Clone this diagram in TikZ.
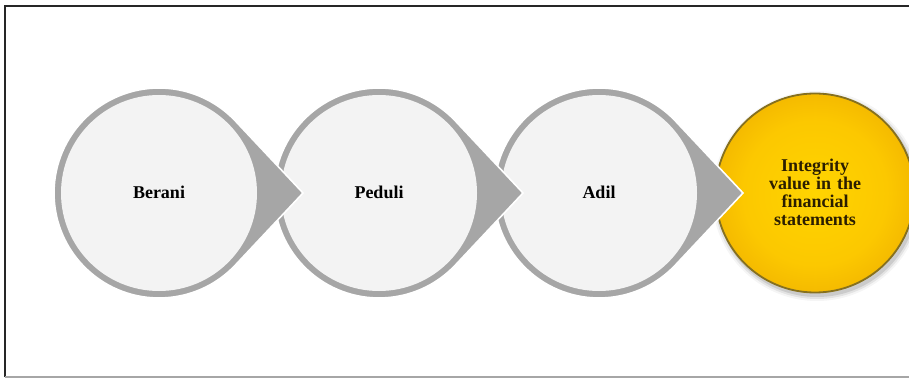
\documentclass[tikz,border=0pt]{standalone}
\usepackage{fontspec}
\setmainfont{Liberation Serif}
\definecolor{ringcol}{HTML}{A6A6A6}
\definecolor{disccol}{HTML}{F3F3F3}
\definecolor{goalin}{HTML}{FFD400}
\definecolor{goalmid}{HTML}{FCC800}
\definecolor{goalout}{HTML}{EFB000}
\definecolor{goaledge}{HTML}{C08C00}
\definecolor{goalrim}{HTML}{857020}
\definecolor{goaltext}{HTML}{2B1E00}
% the shading square is fitted round the disc, so its radius sits at about 35bp
\pgfdeclareradialshading{goalshade}{\pgfpoint{0bp}{0bp}}{%
  color(0bp)=(goalin); color(18bp)=(goalmid); color(30bp)=(goalout);
  color(35bp)=(goaledge); color(50bp)=(goaledge)}
\begin{document}
\begin{tikzpicture}[x=1pt,y=-1pt,
  dropshape/.style={fill=ringcol,draw=white,line width=1.6pt,line join=miter},
  innerdisc/.style={fill=disccol},
  lbl/.style={font=\bfseries\fontsize{18}{18.5}\selectfont,text=black,align=center},
  goallbl/.style={font=\bfseries\fontsize{18}{18}\selectfont,text=goaltext,align=center,text width=110pt}
]
\useasboundingbox (0,0) rectangle (909,379);
\fill[white] (0,0) rectangle (909,379);
% frame
\draw[black!85,line width=1.8pt] (5,377) -- (5,6) -- (909,6);
\draw[black!35,line width=1.2pt] (5,377) -- (909,377);

% goal disc with soft shadow
\foreach \r/\o in {105/0.04,103/0.07,101/0.10}
  \fill[black,opacity=\o] (817,196) circle[radius=\r];
\shade[shading=goalshade] (815,193) circle[radius=100];
\draw[goalrim,line width=1.8pt] (815,193) circle[radius=99.5];
\node[goallbl] (goal) at (815,192) {Integrity\\value in the\\financial\\statements};

% teardrop steps, drawn right to left so each tip lies over the next disc
\foreach \cx/\name/\txt in {599/s3/Adil,379/s2/Peduli,159/s1/Berani}{
  \path[dropshape] (\cx,193) ++(43.3:105)
     arc[start angle=43.3,end angle=316.7,radius=105]
     -- (\cx+144,193) coordinate (\name tip) -- cycle;
  \fill[innerdisc] (\cx,193) circle[radius=98];
  \node[lbl] (\name) at (\cx,192) {\txt};
}
\end{tikzpicture}
\end{document}
